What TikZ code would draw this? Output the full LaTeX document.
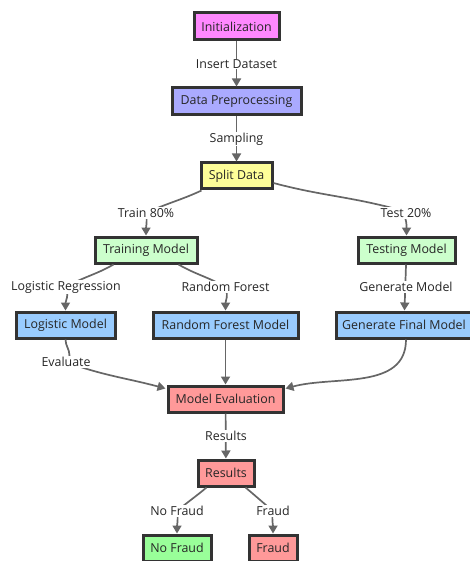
\documentclass[tikz,border=0pt]{standalone}
\usepackage{fontspec}
\setmainfont{Open Sans}
\usetikzlibrary{arrows.meta,calc}
\definecolor{edgec}{HTML}{666666}
\definecolor{bordc}{HTML}{333333}
\definecolor{cinit}{HTML}{FF88FF}
\definecolor{cprep}{HTML}{AAAAFF}
\definecolor{csplit}{HTML}{FFFF99}
\definecolor{cgreen}{HTML}{CCFFCC}
\definecolor{cblue}{HTML}{99CCFF}
\definecolor{cred}{HTML}{FF9999}
\definecolor{cnof}{HTML}{99FF99}
\tikzset{
  box/.style={draw=bordc, line width=3pt, inner sep=0pt, font=\fontsize{12.4}{14}\selectfont, text=black!85},
  lab/.style={fill=white, inner sep=1pt, font=\fontsize{12.4}{14}\selectfont, text=black!85},
  conn/.style={draw=edgec, line width=1.7pt},
  arr/.style={conn, -{Triangle[length=8pt,width=9pt]}},
}
\begin{document}
\begin{tikzpicture}[x=1pt,y=-1pt]
\useasboundingbox (0,0) rectangle (470,561);
% nodes
\node[box, fill=cinit, minimum width=85pt, minimum height=27pt] (init) at (236.5,26.5) {Initialization};
\node[box, fill=cprep, minimum width=129pt, minimum height=27pt] (prep) at (236.5,101.5) {Data Preprocessing};
\node[box, fill=csplit, minimum width=71pt, minimum height=26pt] (split) at (236.5,176) {Split Data};
\node[box, fill=cgreen, minimum width=102pt, minimum height=26pt] (train) at (146,250) {Training Model};
\node[box, fill=cgreen, minimum width=97pt, minimum height=26pt] (test) at (406.5,250) {Testing Model};
\node[box, fill=cblue, minimum width=99pt, minimum height=26pt] (logm) at (65.5,325) {Logistic Model};
\node[box, fill=cblue, minimum width=145pt, minimum height=26pt] (rfm) at (225.5,325) {Random Forest Model};
\node[box, fill=cblue, minimum width=135pt, minimum height=26pt] (gen) at (404,325) {Generate Final Model};
\node[box, fill=cred, minimum width=115pt, minimum height=26pt] (eval) at (225.5,399) {Model Evaluation};
\node[box, fill=cred, minimum width=56pt, minimum height=26pt] (res) at (226,473) {Results};
\node[box, fill=cnof, minimum width=68pt, minimum height=26pt] (nof) at (177,548) {No Fraud};
\node[box, fill=cred, minimum width=48pt, minimum height=26pt] (fr) at (273,548) {Fraud};
% label coordinates
\coordinate (c1) at (236.5,64);
\coordinate (c2) at (236.5,139);
\coordinate (c3) at (146,213);
\coordinate (c4) at (406,213);
\coordinate (c5) at (66,287);
\coordinate (c6) at (225.5,287);
\coordinate (c7) at (406,287);
\coordinate (c8) at (66,362);
\coordinate (c9) at (226,436);
\coordinate (c10) at (177,511);
\coordinate (c11) at (273,511);
% connectors
\draw[arr] (init) -- (prep);
\draw[arr] (prep) -- (split);
\draw[arr] (split.south west) ++(2,0) to[out=-155,in=25] (c3) to[out=-80,in=90] (train.north);
\draw[arr] (split.east) ++(0,7) to[out=-15,in=165] ($(c4)+(-10,-4)$) to[out=-15,in=90] (test.north);
\draw[arr] (train.south west) ++(20,0) to[out=-150,in=30] (c5) to[out=-70,in=90] (logm.north);
\draw[arr] (train.south east) ++(-20,0) to[out=-30,in=150] (c6) to[out=-70,in=90] (rfm.north);
\draw[arr] (test) -- (gen);
\draw[arr] (logm.south) to[out=-90,in=90] ++(4,16) to[out=-90,in=160] (c8) to[out=-20,in=165] ($(eval.north west)+(-1,4)$);
\draw[arr] (rfm) -- (eval);
\draw[arr] (gen.south) ++(2,0) to[out=-90,in=15] ($(eval.north east)+(1,4)$);
\draw[arr] (eval) -- (res);
\draw[arr] (res.south west) ++(10,0) to[out=-140,in=40] (c10) to[out=-80,in=90] (nof.north);
\draw[arr] (res.south east) ++(-10,0) to[out=-40,in=140] (c11) to[out=-100,in=90] (fr.north);
% labels
\node[lab] (l1) at (c1) {Insert Dataset};
\node[lab] (l2) at (c2) {Sampling};
\node[lab] (l3) at (c3) {Train 80\%};
\node[lab] (l4) at (c4) {Test 20\%};
\node[lab] (l5) at (c5) {Logistic Regression};
\node[lab] (l6) at (c6) {Random Forest};
\node[lab] (l7) at (c7) {Generate Model};
\node[lab] (l8) at (c8) {Evaluate};
\node[lab] (l9) at (c9) {Results};
\node[lab] (l10) at (c10) {No Fraud};
\node[lab] (l11) at (c11) {Fraud};
\end{tikzpicture}
\end{document}
